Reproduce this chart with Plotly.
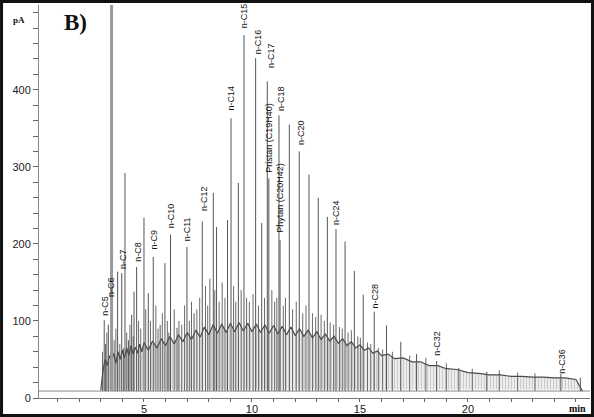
import plotly.graph_objects as go

# ---------------- data ----------------
# hump (unresolved complex mixture) upper edge, jagged
hump_t = [3.0, 3.1, 3.2, 3.3, 3.4, 3.5, 3.6, 3.7, 3.8, 3.9, 4.0, 4.1, 4.2, 4.3, 4.4, 4.5,
          4.6, 4.7, 4.8, 4.9, 5.0, 5.2, 5.4, 5.6, 5.8, 6.0, 6.2, 6.4, 6.6, 6.8, 7.0, 7.2,
          7.4, 7.6, 7.8, 8.0, 8.2, 8.4, 8.6, 8.8, 9.0, 9.2, 9.4, 9.6, 9.8, 10.0, 10.2,
          10.4, 10.6, 10.8, 11.0, 11.2, 11.4, 11.6, 11.8, 12.0, 12.2, 12.4, 12.6, 12.8,
          13.0, 13.2, 13.4, 13.6, 13.8, 14.0, 14.2, 14.4, 14.6, 14.8, 15.0, 15.2, 15.4,
          15.6, 15.8, 16.0, 16.3, 16.6, 17.0, 17.4, 17.8, 18.2, 18.6, 19.0, 19.5, 20.0,
          20.5, 21.0, 21.5, 22.0, 22.5, 23.0, 23.5, 24.0, 24.5, 25.0, 25.2, 25.3]
hump_top = [10, 35, 50, 42, 55, 48, 58, 45, 60, 50, 62, 52, 65, 55, 68, 57,
            66, 58, 70, 60, 72, 62, 74, 65, 77, 68, 80, 70, 82, 73, 85, 76,
            88, 79, 92, 82, 95, 84, 96, 85, 97, 86, 98, 87, 97, 86, 96,
            85, 95, 84, 94, 83, 93, 82, 92, 81, 90, 80, 88, 78,
            86, 76, 83, 74, 80, 71, 77, 68, 73, 65, 69, 62, 65,
            58, 61, 55, 57, 51, 52, 47, 47, 42, 42, 38, 37, 33,
            32, 30, 30, 28, 28, 27, 27, 26, 26, 24, 14, 9]
baseline_level = 9

# major peaks (retention time, height)
peak_t = [3.16, 3.35, 3.78, 3.97, 4.12, 4.28, 4.43, 4.54, 4.66, 5.00, 5.20, 5.43, 5.75,
          5.97, 6.23, 6.53, 6.99, 7.32, 7.70, 8.21, 8.36, 8.87, 9.03, 9.37, 9.63, 10.17,
          10.45, 10.71, 10.78, 11.25, 11.30, 11.73, 12.19, 12.64, 13.07, 13.49, 13.89,
          14.31, 14.74, 15.15, 15.66, 16.23, 16.89, 17.62, 18.55, 19.58, 20.87, 24.30, 25.20]
peak_h = [101, 95, 164, 162, 292, 75, 108, 138, 170, 234, 136, 183, 95,
          175, 212, 91, 196, 110, 229, 266, 222, 231, 363, 279, 471, 441,
          227, 411, 285, 367, 205, 355, 320, 290, 260, 235, 219,
          203, 165, 134, 112, 94, 73, 57, 48, 39, 34, 31, 26]

# minor peaks riding on the hump
minor_t = [3.08, 3.22, 3.28, 3.45, 3.62, 3.70, 3.88, 4.05, 4.20, 4.35, 4.50, 4.75, 4.85,
           5.08, 5.30, 5.55, 5.65, 5.85, 6.08, 6.15, 6.40, 6.62, 6.75, 6.88, 7.10, 7.20,
           7.45, 7.58, 7.85, 7.95, 8.05, 8.28, 8.48, 8.62, 8.75, 9.15, 9.25, 9.50, 9.75,
           9.88, 10.05, 10.30, 10.58, 10.92, 11.05, 11.15, 11.45, 11.55, 11.88, 12.05,
           12.35, 12.50, 12.80, 12.95, 13.20, 13.35, 13.62, 13.78, 14.05, 14.18, 14.45,
           14.60, 14.90, 15.02, 15.35, 15.50, 15.85, 16.05, 16.50, 17.30, 18.05, 19.00,
           20.20, 21.45, 22.30, 23.10]
minor_h = [60, 70, 85, 60, 75, 90, 70, 65, 85, 95, 80, 100, 90,
           115, 100, 120, 90, 110, 100, 85, 115, 100, 95, 120, 100, 125,
           115, 130, 145, 120, 155, 140, 125, 150, 130, 145, 125, 140, 130,
           125, 135, 120, 130, 140, 125, 130, 120, 130, 115, 125,
           110, 120, 110, 105, 108, 100, 98, 95, 92, 90, 85,
           88, 80, 78, 72, 70, 65, 63, 60, 55, 52, 45,
           38, 36, 33, 32]

solvent_t = 3.50
solvent_h = 900

# peak labels: text, position, label base height
label_text = ["n-C5", "n-C6", "n-C7", "n-C8", "n-C9", "n-C10", "n-C11", "n-C12", "n-C14",
              "n-C15", "n-C16", "n-C17", "Pristan (C19H40)", "n-C18", "Phytan (C20H42)",
              "n-C20", "n-C24", "n-C28", "n-C32", "n-C36"]
label_t = [3.19, 3.50, 4.04, 4.71, 5.46, 6.24, 7.00, 7.75, 9.03, 9.63, 10.29, 10.87, 10.75,
           11.37, 11.30, 12.27, 13.92, 15.69, 18.58, 24.34]
label_y = [104, 128, 165, 174, 190, 218, 201, 240, 370, 478, 443, 426, 290, 370, 212,
           325, 222, 114, 52, 29]

x_ticks = list(range(1, 26))
x_labels = ["5", "10", "15", "20"]
y_ticks = list(range(0, 501, 20))
y_labels = ["0", "100", "200", "300", "400"]

# ---------------- figure ----------------
fig = go.Figure()

# baseline
fig.add_trace(go.Scatter(x=[0, 26], y=[baseline_level, baseline_level], mode="lines",
                         line=dict(color="#8a8a8a", width=1), hoverinfo="skip"))

# hump fill with vertical hatch
poly_x = hump_t + hump_t[::-1]
poly_y = hump_top + [baseline_level + 2] * len(hump_t)
fig.add_trace(go.Scatter(x=poly_x, y=poly_y, mode="lines", fill="toself",
                         line=dict(width=0, color="rgba(0,0,0,0)"),
                         fillcolor="#e4e4e4",
                         fillpattern=dict(shape="|", size=3, solidity=0.35,
                                          fgcolor="#a8a8a8", bgcolor="#ececec"),
                         hoverinfo="skip"))

# minor peaks
mx, my = [], []
for t, h in zip(minor_t, minor_h):
    mx += [t, t, None]
    my += [baseline_level, h, None]
fig.add_trace(go.Scatter(x=mx, y=my, mode="lines",
                         line=dict(color="#6a6a6a", width=1), hoverinfo="skip"))

# hump envelope line
fig.add_trace(go.Scatter(x=hump_t, y=hump_top, mode="lines",
                         line=dict(color="#4a4a4a", width=1.2), hoverinfo="skip"))

# major peaks
px_, py_ = [], []
for t, h in zip(peak_t, peak_h):
    px_ += [t, t, None]
    py_ += [baseline_level, h, None]
fig.add_trace(go.Scatter(x=px_, y=py_, mode="lines",
                         line=dict(color="#555555", width=1), hoverinfo="skip"))

# solvent peak
fig.add_trace(go.Scatter(x=[solvent_t, solvent_t], y=[baseline_level, solvent_h], mode="lines",
                         line=dict(color="#9a9a9a", width=3), hoverinfo="skip"))

annotations = []
for txt, t, y in zip(label_text, label_t, label_y):
    annotations.append(dict(x=t, y=y, text=txt, textangle=-90, showarrow=False,
                            xanchor="center", yanchor="bottom",
                            font=dict(family="Liberation Sans", size=9, color="#111")))

annotations += [
    dict(xref="paper", yref="paper", x=0.066, y=0.955, text="<b>B)</b>", showarrow=False,
         xanchor="center", yanchor="middle",
         font=dict(family="Liberation Serif", size=23, color="#111")),
    dict(xref="paper", yref="paper", x=-0.036, y=0.962, text="<b>pA</b>", showarrow=False,
         xanchor="center", yanchor="middle",
         font=dict(family="Liberation Serif", size=9, color="#111")),
    dict(xref="paper", yref="paper", x=0.978, y=-0.026, text="<b>min</b>", showarrow=False,
         xanchor="center", yanchor="middle",
         font=dict(family="Liberation Serif", size=10, color="#111")),
]

x_text = [str(v) if str(v) in x_labels else "" for v in x_ticks]
y_text = [str(v) if str(v) in y_labels else "" for v in y_ticks]

fig.update_layout(
    width=594, height=417,
    margin=dict(l=39, r=4, t=5, b=19, autoexpand=False),
    paper_bgcolor="white", plot_bgcolor="white",
    showlegend=False,
    annotations=annotations,
    font=dict(family="Liberation Sans", size=11, color="#222"),
    xaxis=dict(range=[0.14, 25.65], tickmode="array", tickvals=x_ticks, ticktext=x_text,
               ticks="outside", ticklen=3, tickcolor="#666", showline=True, linecolor="#777",
               linewidth=1, showgrid=False, zeroline=False, tickfont=dict(size=11),
               ticklabelstandoff=-2, automargin=False),
    yaxis=dict(range=[0, 510], tickmode="array", tickvals=y_ticks, ticktext=y_text,
               ticks="outside", ticklen=5, tickcolor="#666", showline=True, linecolor="#888",
               linewidth=1, showgrid=False, zeroline=False, tickfont=dict(size=11),
               automargin=False),
    shapes=[dict(type="rect", xref="paper", yref="paper",
                 x0=-0.068, x1=1.0045, y0=-0.0445, y1=1.0089,
                 line=dict(color="#111", width=3), fillcolor="rgba(0,0,0,0)")],
)

fig.write_html("out.html", config={"displayModeBar": False},
               post_script="document.body.style.margin='0';")
